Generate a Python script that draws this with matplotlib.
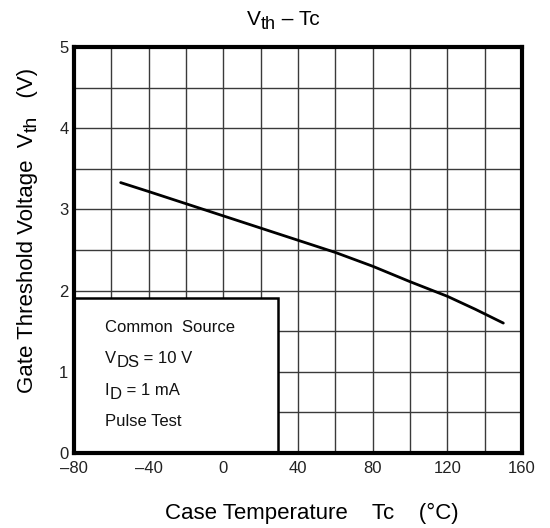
import matplotlib
matplotlib.use("Agg")
import matplotlib.pyplot as plt
from matplotlib.patches import Rectangle

plt.rcParams['font.family'] = ['Liberation Sans', 'DejaVu Sans']

# Data
temps = [-55, -40, -20, 0, 20, 40, 60, 80, 100, 120, 135, 150]
vth = [3.33, 3.22, 3.07, 2.92, 2.77, 2.62, 2.47, 2.30, 2.11, 1.93, 1.77, 1.60]
x_ticks = [-80, -40, 0, 40, 80, 120, 160]
x_tick_labels = ['\u201380', '\u201340', '0', '40', '80', '120', '160']
y_ticks = [0, 1, 2, 3, 4, 5]
y_tick_labels = ['0', '1', '2', '3', '4', '5']

W, H = 550, 528
fig = plt.figure(figsize=(W / 100, H / 100), dpi=100)
ax = fig.add_axes([74 / W, 1 - 453 / H, 448 / W, 406 / H])
ax.set_xlim(-80, 160)
ax.set_ylim(0, 5)

# grid
for gx in range(-80, 161, 20):
    ax.axvline(gx, color='#3a3a3a', lw=1.0, zorder=1)
for gy in [i * 0.5 for i in range(11)]:
    ax.axhline(gy, color='#3a3a3a', lw=1.0, zorder=1)

ax.plot(temps, vth, color='black', lw=2.0, zorder=3, solid_capstyle='round',
        solid_joinstyle='round')

# condition box
ax.add_patch(Rectangle((-80, 0), 109.5, 1.91, facecolor='white', edgecolor='black',
                       lw=1.8, zorder=4))

for s in ax.spines.values():
    s.set_linewidth(3)
    s.set_zorder(5)

ax.set_xticks(x_ticks)
ax.set_xticklabels(x_tick_labels)
ax.set_yticks(y_ticks)
ax.set_yticklabels(y_tick_labels)
ax.tick_params(length=0, labelsize=12, colors='#222222')
ax.tick_params(axis='x', pad=6)
ax.tick_params(axis='y', pad=4)

renderer = fig.canvas.get_renderer()


def adv(s, size):
    t1 = fig.text(0, 0, '|' + s + '|', fontsize=size)
    t2 = fig.text(0, 0, '||', fontsize=size)
    w = t1.get_window_extent(renderer).width - t2.get_window_extent(renderer).width
    t1.remove()
    t2.remove()
    return w


def runs_text(x_px, y_px, runs, rot=0, color='black'):
    pos = 0.0
    for s, size, shift in runs:
        if rot == 0:
            x, y = x_px + pos, y_px + shift
        else:
            x, y = x_px + shift, y_px - pos
        fig.text(x / W, 1 - y / H, s, fontsize=size, rotation=rot, rotation_mode='anchor',
                 ha='left', va='baseline', color=color)
        pos += adv(s, size)


# title
runs_text(247, 25, [('V', 15, 0), ('th', 13, 4), (' \u2013 Tc', 15, 0)])
# x label
runs_text(165, 519, [('Case Temperature    Tc    (\u00b0C)', 16, 0)])
# y label
runs_text(33, 393, [('Gate Threshold Voltage  V', 16, 0), ('th', 14, 4), ('   (V)', 16, 0)], rot=90)

# box text
runs_text(105, 332, [('Common  Source', 12, 0)], color='#111111')
runs_text(105, 363, [('V', 12, 0), ('DS', 12, 4), (' = 10 V', 12, 0)], color='#111111')
runs_text(105, 395, [('I', 12, 0), ('D', 12, 4), (' = 1 mA', 12, 0)], color='#111111')
runs_text(105, 426, [('Pulse Test', 12, 0)], color='#111111')

fig.savefig('out.png', dpi=100)
